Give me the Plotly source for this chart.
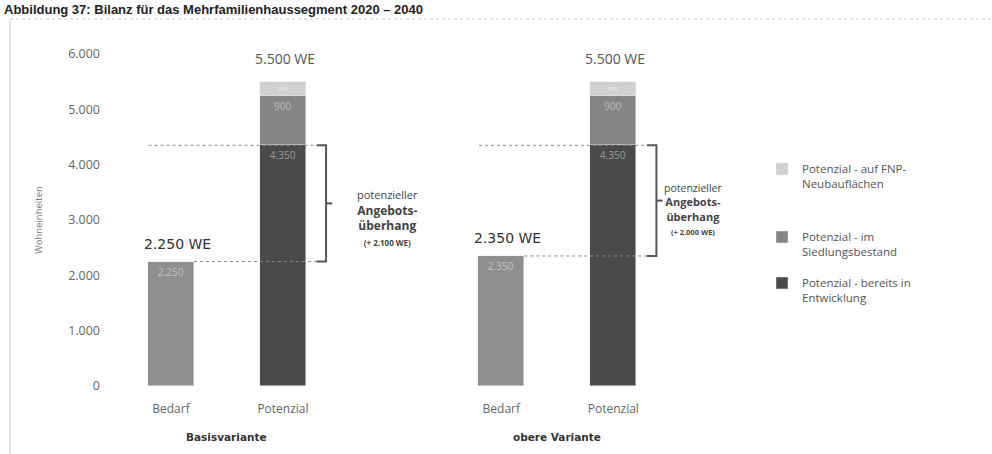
import plotly.graph_objects as go

# ---------------- data ----------------
variants = ["Basisvariante", "obere Variante"]
bar_categories = ["Bedarf", "Potenzial"]
bedarf = [2250, 2350]
pot_entwicklung = [4350, 4350]   # Potenzial - bereits in Entwicklung
pot_bestand = [900, 900]         # Potenzial - im Siedlungsbestand
pot_fnp = [250, 250]             # Potenzial - auf FNP-Neubauflächen
y_ticks = [0, 1000, 2000, 3000, 4000, 5000, 6000]

# ---------------- layout helpers ----------------
pos_bedarf = [0.0, 2.95]
pos_pot = [p + 1.0 for p in pos_bedarf]
bar_w = 0.41

PX_L, PX_R, PX_T, PX_B = 117, 760, 54, 386


def px_x(px):
    return (px - PX_L) / (PX_R - PX_L)


def px_y(py):
    return (PX_B - py) / (PX_B - PX_T)


def fmt(v):
    return f"{v:,}".replace(",", ".")


c_dark = "#4a4a4a"
c_mid = "#858585"
c_light = "#d0d0d0"
c_bedarf = "#8f8f8f"
font_main = "Open Sans"

fig = go.Figure()

fig.add_trace(go.Bar(
    x=pos_bedarf, y=bedarf, width=bar_w, marker_color=c_bedarf, showlegend=False,
    text=[fmt(v) for v in bedarf], textposition="inside", insidetextanchor="end",
    textfont=dict(color="#c4c4c4", size=10, family=font_main), textangle=0,
))
fig.add_trace(go.Bar(
    x=pos_pot, y=pot_entwicklung, width=bar_w, marker_color=c_dark,
    name="Potenzial - bereits in<br>Entwicklung", legend="legend3",
    text=[fmt(v) for v in pot_entwicklung], textposition="inside", insidetextanchor="end",
    textfont=dict(color="#9a9a9a", size=10, family=font_main), textangle=0,
))
fig.add_trace(go.Bar(
    x=pos_pot, y=pot_bestand, width=bar_w, marker_color=c_mid,
    name="Potenzial - im<br>Siedlungsbestand", legend="legend2",
    text=[fmt(v) for v in pot_bestand], textposition="inside", insidetextanchor="end",
    textfont=dict(color="#bdbdbd", size=10, family=font_main), textangle=0,
))
fig.add_trace(go.Bar(
    x=pos_pot, y=pot_fnp, width=bar_w, marker_color=c_light,
    name="Potenzial - auf FNP-<br>Neubauflächen", legend="legend",
    text=[fmt(v) for v in pot_fnp], textposition="inside", insidetextanchor="middle",
    textfont=dict(color="#f2f2f2", size=9, family=font_main), textangle=0,
))

shapes = []
annotations = []
overhang_fonts = [(11, 12, 8), (10.5, 11, 7.5)]
text_offsets = [0.93, 0.71]
text_yshift = [-14, -8]
for i in range(len(variants)):
    pb, pp = pos_bedarf[i], pos_pot[i]
    top_ent = pot_entwicklung[i]
    total = pot_entwicklung[i] + pot_bestand[i] + pot_fnp[i]
    # dotted reference lines
    shapes.append(dict(type="line", xref="x", yref="y", x0=pb - 0.2, x1=pp + 0.3,
                       y0=top_ent, y1=top_ent, line=dict(color="#8a8a8a", width=1, dash="dot")))
    shapes.append(dict(type="line", xref="x", yref="y", x0=pb + bar_w / 2, x1=pp + 0.3,
                       y0=bedarf[i], y1=bedarf[i], line=dict(color="#8a8a8a", width=1, dash="dot")))
    # bracket
    xa, xb, xc = pp + 0.3, pp + 0.385, pp + 0.44
    ym = (top_ent + bedarf[i]) / 2
    shapes.append(dict(type="path", xref="x", yref="y",
                       path=f"M{xa},{top_ent} L{xb},{top_ent} L{xb},{bedarf[i]} L{xa},{bedarf[i]}",
                       line=dict(color="#555555", width=2)))
    shapes.append(dict(type="line", xref="x", yref="y", x0=xb, x1=xc, y0=ym, y1=ym,
                       line=dict(color="#555555", width=2)))
    # value labels
    annotations.append(dict(x=pb - bar_w / 2, y=bedarf[i], xref="x", yref="y",
                            text=f"{fmt(bedarf[i])} WE", showarrow=False, xanchor="left",
                            yanchor="bottom", xshift=-6, yshift=8,
                            font=dict(family="DejaVu Sans", size=14, color="#333333"),
                            ))
    annotations.append(dict(x=pp, y=total, xref="x", yref="y",
                            text=f"{fmt(total)} WE", showarrow=False, xanchor="center",
                            yanchor="bottom", xshift=2, yshift=12,
                            font=dict(family=font_main, size=14, color="#555555")))
    f1, f2, f3 = overhang_fonts[i]
    diff = top_ent - bedarf[i]
    annotations.append(dict(
        x=pp + text_offsets[i], y=ym, xref="x", yref="y", showarrow=False,
        text=(f"<span style='font-size:{f1}px'>potenzieller</span><br>"
              f"<b>Angebots-<br>überhang</b><br>"
              f"<span style='font-size:{f3}px'><b>(+ {fmt(diff)} WE)</b></span>"),
        font=dict(family=font_main, size=f2, color="#444444"), align="center",
        xanchor="center", yanchor="middle", yshift=text_yshift[i]))
    # group label
    annotations.append(dict(x=(pb + pp) / 2, y=px_y(437), xref="x", yref="paper",
                            text=f"<b>{variants[i]}</b>", showarrow=False,
                            xanchor="center", yanchor="middle",
                            font=dict(family="DejaVu Sans", size=10.5, color="#333333")))

# y axis title
annotations.append(dict(x=px_x(38), y=px_y(220), xref="paper", yref="paper",
                        text="Wohneinheiten", textangle=-90, showarrow=False,
                        xanchor="center", yanchor="middle",
                        font=dict(family=font_main, size=9.5, color="#777777")))
# figure caption
annotations.append(dict(x=px_x(2), y=px_y(0), xref="paper", yref="paper",
                        text="<b>Abbildung 37: Bilanz für das Mehrfamilienhaussegment 2020 – 2040</b>",
                        showarrow=False, xanchor="left", yanchor="top",
                        font=dict(family="Liberation Sans", size=13, color="#222222")))

# frame lines
shapes.append(dict(type="line", xref="paper", yref="paper", x0=px_x(10), x1=px_x(992),
                   y0=px_y(19), y1=px_y(19), line=dict(color="#c8c8c8", width=1, dash="dot")))
shapes.append(dict(type="line", xref="paper", yref="paper", x0=px_x(10), x1=px_x(10),
                   y0=px_y(21), y1=px_y(454), line=dict(color="#c8c8c8", width=1)))

tick_pos = pos_bedarf + pos_pot
tick_txt = [bar_categories[0]] * len(pos_bedarf) + [bar_categories[1]] * len(pos_pot)

legend_common = dict(xanchor="left", yanchor="top", valign="top", bgcolor="rgba(0,0,0,0)",
                     font=dict(family=font_main, size=11.5, color="#555555"),
                     itemwidth=30, tracegroupgap=0)

fig.update_layout(
    width=992, height=454,
    margin=dict(l=PX_L, r=992 - PX_R, t=PX_T, b=454 - PX_B, pad=0),
    paper_bgcolor="white", plot_bgcolor="white",
    barmode="stack", separators=",.",
    font=dict(family=font_main, color="#555555"),
    xaxis=dict(range=[-0.482, 5.26], tickmode="array", tickvals=tick_pos,
               ticktext=tick_txt, showgrid=False, zeroline=False, showline=False,
               ticks="", tickfont=dict(size=12, color="#666666"), ticklabelstandoff=14),
    yaxis=dict(range=[0, 6000], tickvals=y_ticks, tickformat=",", showgrid=False,
               zeroline=False, showline=False, ticks="",
               tickfont=dict(size=12.5, color="#666666"), ticklabelstandoff=16),
    legend=dict(x=px_x(762), y=px_y(155), **legend_common),
    legend2=dict(x=px_x(762), y=px_y(223), **legend_common),
    legend3=dict(x=px_x(762), y=px_y(269), **legend_common),
    shapes=shapes, annotations=annotations, bargap=0,
)

fig.write_html("out.html", config={"displayModeBar": False},
               post_script="document.body.style.margin='0';")
